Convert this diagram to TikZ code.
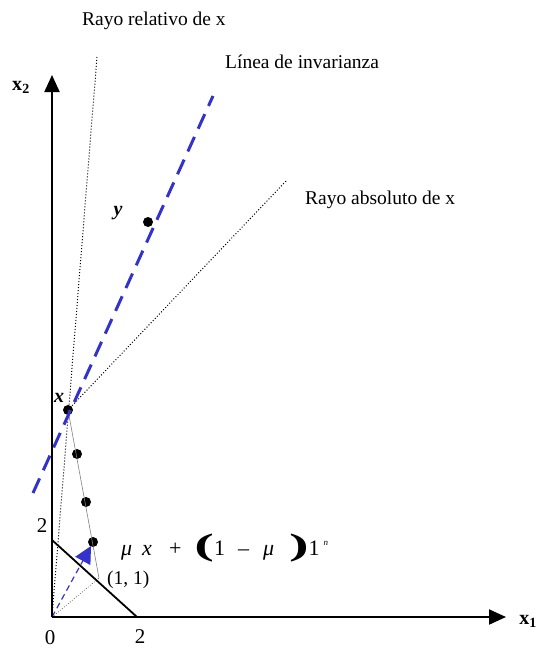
\documentclass[tikz,border=0pt]{standalone}
\usepackage{fontspec}
\setmainfont{Liberation Serif}
\usetikzlibrary{arrows.meta}
\definecolor{myblue}{RGB}{51,51,204}
\newcommand{\bigparen}[1]{\scalebox{1.9}[1]{\fontsize{31}{31}\selectfont\bfseries #1}}
\begin{document}
\begin{tikzpicture}[x=1pt,y=-1pt,
  axis/.style={line width=2pt,-{Triangle[length=17pt,width=15pt]}},
  ray/.style={dotted,line width=1pt},
  thinray/.style={dotted,line width=0.6pt},
  inv/.style={myblue,line width=3pt,dash pattern=on 16pt off 9pt},
  dotpt/.style={circle,fill=black,inner sep=0pt,minimum size=10pt},
  lbl/.style={font=\fontsize{19.5}{22}\selectfont,inner sep=0pt},
  pt/.style={inner sep=0pt,minimum size=0pt}]
\useasboundingbox (0,0) rectangle (539,648);
% coordinates
\coordinate (O) at (52,617);
\coordinate (X2end) at (52,75);
\coordinate (X1end) at (506,617);
\coordinate (B2y) at (52,540);
\coordinate (B2x) at (137,617);
\coordinate (one) at (99,578);
\coordinate (relend) at (97,57);
\coordinate (absend) at (287,180);
\coordinate (invA) at (33,493);
\coordinate (invB) at (213,96);
\coordinate (arrtip) at (91,546);
% rays
\draw[ray] (O) -- (relend);
\draw[thinray] (O) -- (one);
% dots
\node[dotpt] (x) at (68,410) {};
\node[dotpt] (d1) at (77,454) {};
\node[dotpt] (d2) at (86,502) {};
\node[dotpt] (d3) at (93,542) {};
\node[dotpt] (y) at (148,222) {};
\draw[ray] (x.center) -- (absend);
\draw[gray,line width=0.6pt] (x.center) -- (one);
% budget line
\draw[line width=1.8pt] (B2y) -- (B2x);
% invariance line
\draw[inv] (invA) -- (invB);
% blue arrow
\draw[myblue,line width=1.2pt,dash pattern=on 6pt off 4pt,-{Triangle[length=17pt,width=17pt]}] (O) -- (arrtip);
% axes
\draw[axis] (O) -- (X2end);
\draw[axis] (O) -- (X1end);
% labels
\node[lbl,anchor=west] (trel) at (82,21) {Rayo relativo de x};
\node[lbl,anchor=west] (tinv) at (225,62) {Línea de invarianza};
\node[lbl,anchor=west] (tabs) at (305,200) {Rayo absoluto de x};
\node[lbl,font=\fontsize{20}{22}\selectfont\bfseries] (lx2) at (21,87) {x\textsubscript{2}};
\node[lbl,font=\fontsize{20}{22}\selectfont\bfseries] (lx1) at (528,621) {x\textsubscript{1}};
\node[lbl,font=\fontsize{20}{22}\selectfont\bfseries\itshape] (lx) at (59,398) {x};
\node[lbl,font=\fontsize{20}{22}\selectfont\bfseries\itshape] (ly) at (118,213) {y};
\node[lbl,font=\fontsize{21}{22}\selectfont] (l0) at (50,638) {0};
\node[lbl,font=\fontsize{21}{22}\selectfont] (l2x) at (140,637) {2};
\node[lbl,font=\fontsize{21}{22}\selectfont] (l2y) at (42,526) {2};
\node[lbl,anchor=west] (l11) at (107,580) {(1, 1)};
\node[lbl,anchor=base west,font=\fontsize{22}{24}\selectfont] (formula) at (121,555)
 {\textit{μ}\hspace{10pt}\textit{x}\hspace{17pt}+\hspace{13pt}\bigparen{(}1\hspace{13pt}–\hspace{14pt}\textit{μ}\hspace{15pt}\bigparen{)}1\hspace{4pt}\raisebox{10pt}{\fontsize{9}{9}\selectfont\textit{n}}};
\end{tikzpicture}
\end{document}
